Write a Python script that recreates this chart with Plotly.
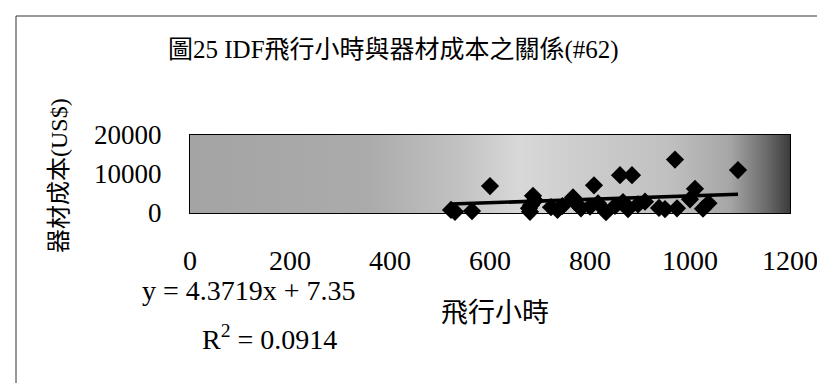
import plotly.graph_objects as go

# ---- data ----
flight_hours = [522, 530, 564, 600, 678, 680, 682, 686, 690, 722, 735, 745, 766, 772,
                782, 800, 808, 816, 832, 850, 860, 866, 876, 884, 896, 910, 938, 950,
                970, 974, 1000, 1010, 1026, 1037, 1096]
equipment_cost = [800, 300, 500, 6900, 1200, 300, 2000, 4400, 3200, 1500, 800, 1800, 4000, 2500,
                  1200, 1600, 7100, 2500, 200, 1800, 9700, 2800, 1000, 9700, 2200, 2900, 1300, 1000,
                  13700, 1200, 3500, 6200, 1100, 2500, 11000]
x_ticks = [0, 200, 400, 600, 800, 1000, 1200]
y_ticks = [0, 10000, 20000]
slope, intercept = 4.3719, 7.35
r_squared = 0.0914

title_text = "圖25 IDF飛行小時與器材成本之關係(#62)"
x_title = "飛行小時"
y_title = "器材成本(US$)"

# ---- layout geometry (pixels) ----
W, H = 825, 383
L, R, T, B = 182, 782, 127, 205
def px(X):
    return (X - L) / (R - L)
def py(Y):
    return (B - Y) / (B - T)

FONT = "Liberation Serif, Noto Sans CJK TC, serif"

fig = go.Figure()

# gradient background of plot area
x0, x1 = x_ticks[0], x_ticks[-1]
y0, y1 = y_ticks[0], y_ticks[-1]
fig.add_trace(go.Scatter(
    x=[x0, x1, x1, x0, x0], y=[y0, y0, y1, y1, y0],
    mode="lines", line=dict(width=0), fill="toself",
    fillgradient=dict(type="horizontal", colorscale=[
        [0.0, "#a4a4a4"], [0.3, "#ababab"], [0.45, "#c2c2c2"], [0.55, "#d8d8d8"],
        [0.65, "#cdcdcd"], [0.8, "#c0c0c0"], [0.9, "#a6a6a6"], [0.96, "#6c6c6c"], [1.0, "#3c3c3c"]]),
    hoverinfo="skip", showlegend=False))

# trendline
tx = [min(flight_hours), max(flight_hours)]
fig.add_trace(go.Scatter(x=tx, y=[slope * v + intercept for v in tx], mode="lines",
                         line=dict(color="black", width=3.5), showlegend=False))

# points
fig.add_trace(go.Scatter(x=flight_hours, y=equipment_cost, mode="markers",
                         marker=dict(symbol="diamond", size=14, color="black",
                                     line=dict(width=0)),
                         cliponaxis=False, showlegend=False))

fig.update_layout(
    width=W, height=H, margin=dict(l=L, r=W - R, t=T, b=H - B),
    paper_bgcolor="white", plot_bgcolor="white",
    font=dict(family=FONT, color="black"),
    showlegend=False,
)
fig.update_xaxes(range=[x0, x1], tickvals=x_ticks, ticktext=[str(v) for v in x_ticks],
                 showgrid=False, zeroline=False, showline=True, linecolor="black", linewidth=1,
                 mirror=True, ticks="", tickfont=dict(size=28, family=FONT),
                 ticklabelstandoff=22)
fig.update_yaxes(range=[y0, y1], tickvals=y_ticks, ticktext=[str(v) for v in y_ticks],
                 showgrid=True, gridcolor="#555555", gridwidth=1, zeroline=False,
                 showline=True, linecolor="black", linewidth=1, mirror=True, ticks="",
                 tickfont=dict(size=27, family=FONT), ticklabelstandoff=22)

anns = [
    dict(text=title_text, x=px(158), y=py(42), size=25, anchor="left"),
    dict(text="y = %.4fx + %.2f" % (slope, intercept), x=px(241), y=py(282), size=28, anchor="center"),
    dict(text="R<sup>2</sup> = %.4f" % r_squared, x=px(192), y=py(329), size=28, anchor="left"),
    dict(text=x_title, x=px(487), y=py(305), size=27, anchor="center"),
]
for a in anns:
    fig.add_annotation(text=a["text"], x=a["x"], y=a["y"], xref="paper", yref="paper",
                       showarrow=False, xanchor=a["anchor"], yanchor="middle",
                       font=dict(size=a["size"], family=FONT, color="black"))
fig.add_annotation(text=y_title, x=px(51), y=py(168), xref="paper", yref="paper",
                   showarrow=False, textangle=-90, xanchor="center", yanchor="middle",
                   font=dict(size=24, family=FONT, color="black"))

# outer chart border (top and left edges visible)
fig.add_shape(type="line", xref="paper", yref="paper", x0=px(8), y0=py(8), x1=px(8), y1=py(383),
              line=dict(color="#333333", width=1))
fig.add_shape(type="line", xref="paper", yref="paper", x0=px(8), y0=py(8), x1=px(825), y1=py(8),
              line=dict(color="#333333", width=1))

fig.write_html("out.html")
